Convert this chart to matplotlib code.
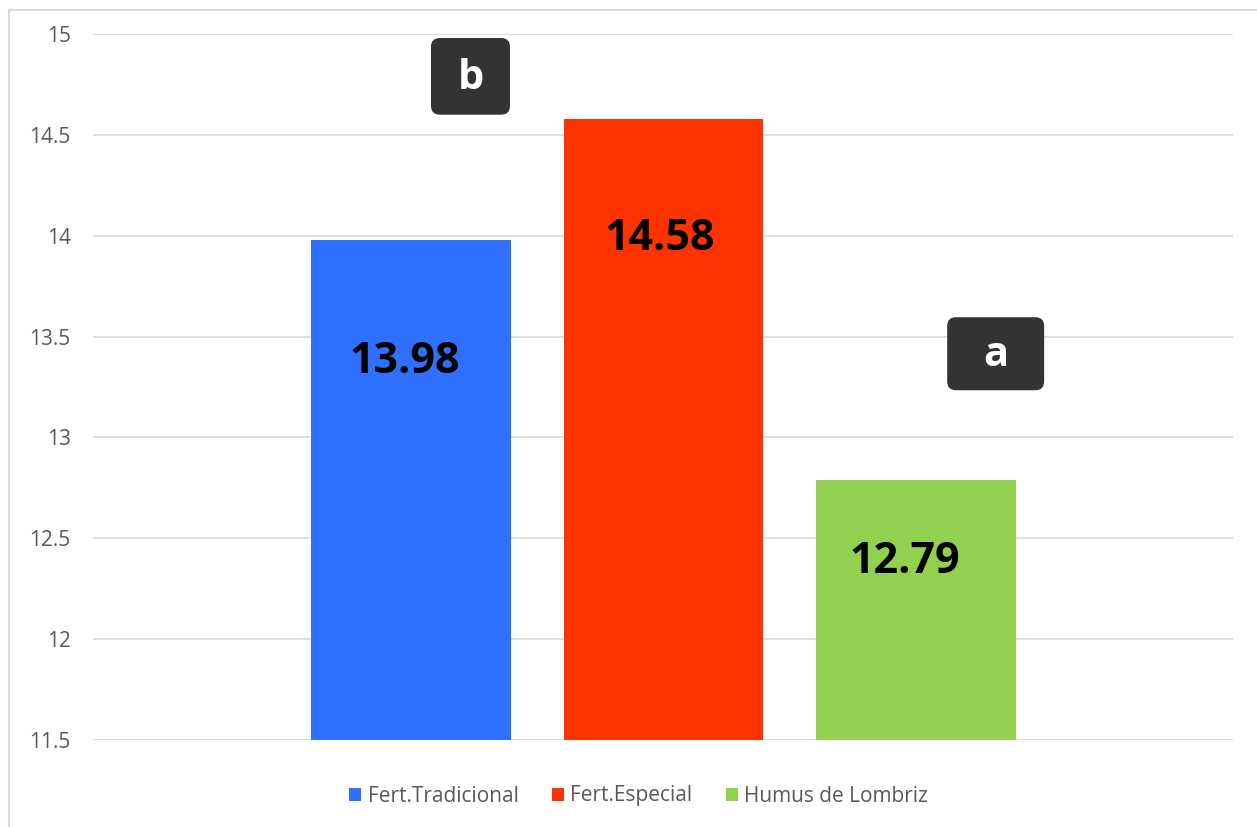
import matplotlib.pyplot as plt
from matplotlib.patches import Patch, FancyBboxPatch
from matplotlib.lines import Line2D

# data
treatments = ['Fert.Tradicional', 'Fert.Especial', 'Humus de Lombriz']
values = [13.98, 14.58, 12.79]
colors = ['#2F70FF', '#FF3300', '#92D050']
yticks = [11.5, 12, 12.5, 13, 13.5, 14, 14.5, 15]

# significance letters and where their boxes sit (x, y in data units)
letters = ['b', 'a']
letter_pos = [(-0.765, 14.79), (1.315, 13.415)]
letter_size = [(0.313, 0.38), (0.384, 0.362)]

# where the value labels go, relative to the bar centre
label_dx = [-0.025, -0.016, -0.045]
label_y = [13.375, 13.985, 12.385]

plt.rcParams['font.family'] = ['Open Sans', 'DejaVu Sans']

fig = plt.figure(figsize=(12.57, 8.27), dpi=100)
ax = fig.add_axes([93 / 1257, 1 - 740 / 827, 1140 / 1257, 706 / 827])

x = [-1, 0, 1]
ax.bar(x, values, width=0.79, color=colors, zorder=2)

ax.set_ylim(11.5, 15)
ax.set_xlim(-2.26, 2.255)
ax.set_yticks(yticks)
ax.set_yticklabels([f'{t:g}' for t in yticks])
ax.tick_params(axis='y', length=0, pad=16, labelsize=15, labelcolor='#595959')
ax.set_xticks([])
ax.grid(axis='y', color='#D9D9D9', linewidth=1.2, zorder=0)
for s in ax.spines.values():
    s.set_visible(False)

for xi, v, dx, ly in zip(x, values, label_dx, label_y):
    ax.text(xi + dx, ly, f'{v:.2f}', ha='center', va='center',
            fontsize=31, fontweight='bold', color='black', zorder=3)

# rounded dark boxes with the letters
asp = 252.5 / 201.7
for lt, (cx, cy), (w, h) in zip(letters, letter_pos, letter_size):
    box = FancyBboxPatch((cx - w / 2, cy - h / 2), w, h,
                         boxstyle='round,pad=0,rounding_size=0.035',
                         mutation_aspect=asp, facecolor='#333333',
                         edgecolor='none', clip_on=False, zorder=4)
    ax.add_patch(box)
    ax.text(cx, cy - 0.01, lt, ha='center', va='center', fontsize=30,
            fontweight='bold', color='white', zorder=5, clip_on=False)

handles = [Patch(facecolor=c, edgecolor='none') for c in colors]
leg = fig.legend(handles, treatments, loc='center', bbox_to_anchor=(0.508, 1 - 796 / 827),
                 ncol=3, frameon=False, fontsize=15, handlelength=0.58,
                 handleheight=0.58, handletextpad=0.3, columnspacing=1.6)
for t in leg.get_texts():
    t.set_color('#595959')

# chart border
fig.add_artist(Line2D([9 / 1257, 9 / 1257], [0, 1 - 10 / 827], color='#D9D9D9', linewidth=1.5))
fig.add_artist(Line2D([9 / 1257, 1], [1 - 10 / 827, 1 - 10 / 827], color='#D9D9D9', linewidth=1.5))

fig.savefig('out.png', dpi=100)
